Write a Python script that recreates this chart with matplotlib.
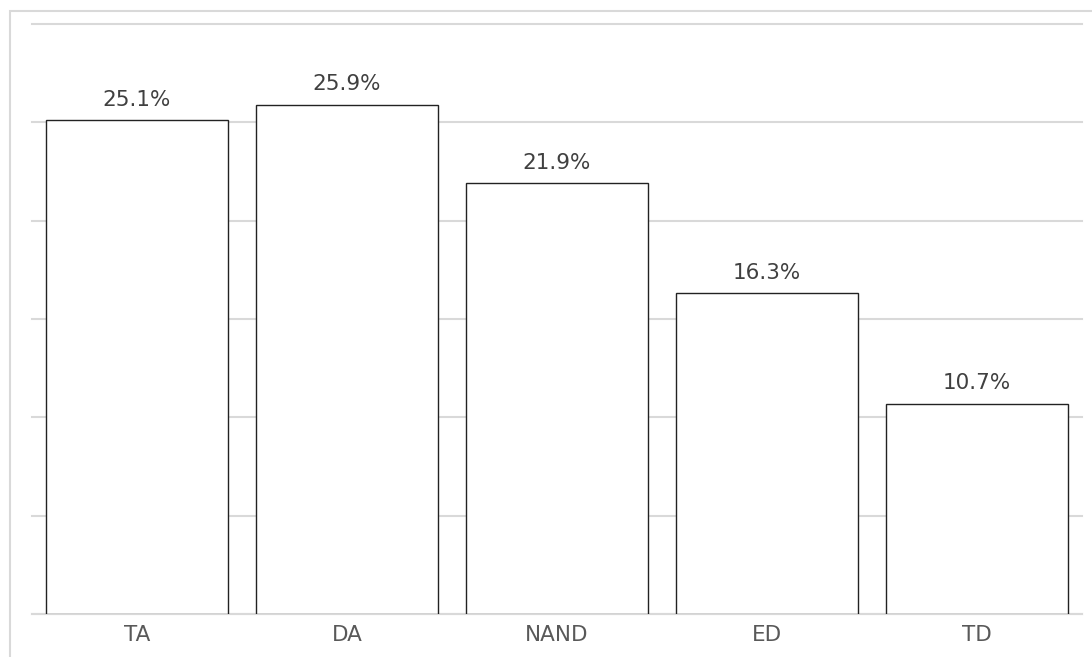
import matplotlib
matplotlib.use("Agg")
import matplotlib.pyplot as plt
from matplotlib.patches import Rectangle

categories = ["TA", "DA", "NAND", "ED", "TD"]
values = [25.1, 25.9, 21.9, 16.3, 10.7]
y_ticks = [0, 5, 10, 15, 20, 25, 30]

W, H = 1092, 657
fig = plt.figure(figsize=(W / 100, H / 100), dpi=100)
fig.patch.set_facecolor("white")

# light frame around the chart area
fig.patches.append(Rectangle((10 / W, -0.1), 1.2, 1 - 11 / H + 0.1,
                             transform=fig.transFigure, fill=False,
                             edgecolor="#d9d9d9", linewidth=1.5))

left, right, bottom, top = 32, 1082, 614, 24
ax = fig.add_axes([left / W, 1 - bottom / H, (right - left) / W, (bottom - top) / H])

x = list(range(len(categories)))
ax.bar(x, values, width=0.87, facecolor="white", edgecolor="#222222",
       linewidth=1.0, zorder=3)

for xi, v in zip(x, values):
    ax.annotate(f"{v:.1f}%", (xi, v), xytext=(0, 10.5), textcoords="offset points",
                ha="center", va="baseline", fontsize=15.5, color="#404040",
                family="DejaVu Sans", zorder=4)

ax.set_xlim(-0.5, len(categories) - 0.5)
ax.set_ylim(0, 30)
ax.set_yticks(y_ticks)
ax.set_yticklabels([])
ax.set_xticks(x)
ax.set_xticklabels(categories, fontsize=15.5, color="#595959", family="DejaVu Sans")
ax.tick_params(axis="both", length=0)
ax.tick_params(axis="x", pad=8)
ax.grid(axis="y", color="#d9d9d9", linewidth=1.5, zorder=0)
for gl in ax.get_ygridlines():
    gl.set_clip_on(False)
for s in ["top", "left", "right"]:
    ax.spines[s].set_visible(False)
ax.spines["bottom"].set_color("#d9d9d9")
ax.spines["bottom"].set_linewidth(1.5)

fig.savefig("out.png", dpi=100, facecolor="white")
